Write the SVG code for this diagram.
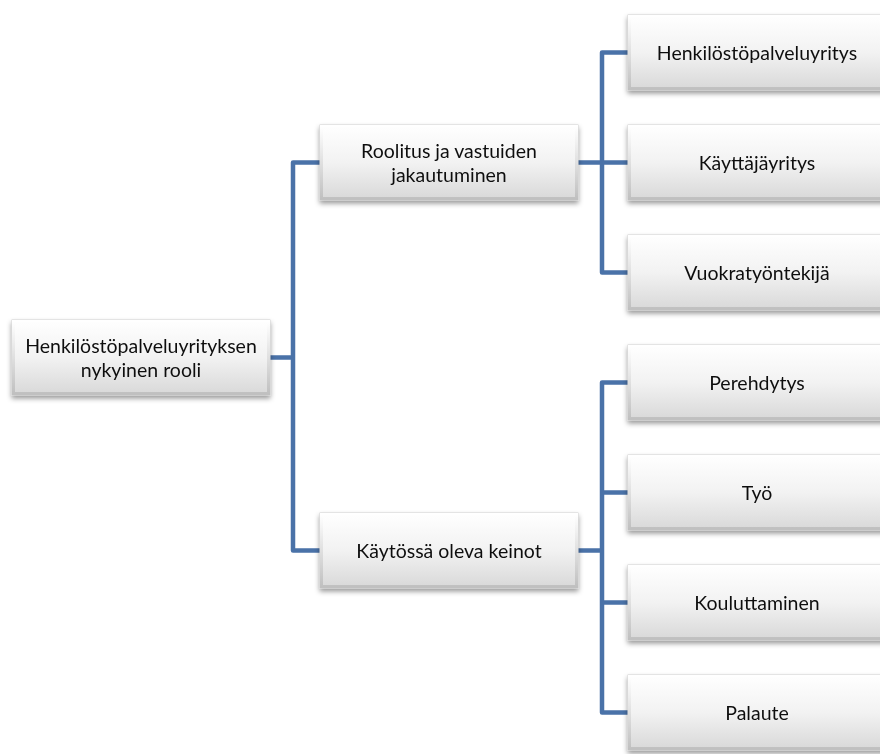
<svg xmlns="http://www.w3.org/2000/svg" width="880" height="754" viewBox="0 0 880 754">
<style>
.box{fill:url(#g);stroke:#d0d0d0;stroke-width:1}
.bev{fill:none;stroke:url(#bv);stroke-width:3}
.t{font-family:Lato,"Open Sans",sans-serif;font-size:19.5px;fill:#111;text-anchor:middle}
.c{fill:none;stroke:#4A72A8;stroke-width:4.5;stroke-linejoin:round;stroke-linecap:butt}
</style>
<defs>
<linearGradient id="g" x1="0" y1="0" x2="0" y2="1">
<stop offset="0" stop-color="#ffffff"/>
<stop offset="0.5" stop-color="#f2f2f2"/>
<stop offset="1" stop-color="#d8d8d8"/>
</linearGradient>
<linearGradient id="bv" x1="0" y1="0" x2="0" y2="1">
<stop offset="0" stop-color="#ffffff"/>
<stop offset="1" stop-color="#c0c0c0"/>
</linearGradient>
<filter id="sh" x="-10%" y="-20%" width="120%" height="150%">
<feDropShadow dx="0" dy="3" stdDeviation="2.5" flood-color="#000" flood-opacity="0.4"/>
</filter>
</defs>
<rect width="880" height="754" fill="#fff"/>
<g id="connectors">
<path class="c" d="M270 357.5H293M320 162.5H293V550.5H320"/>
<path class="c" d="M578 162.5H602M628 52.5H602V272.5H628M602 162.5H628"/>
<path class="c" d="M578 550.5H602M628 382.5H602V712.5H628M602 492.5H628M602 602.5H628"/>
</g>
<g id="root" filter="url(#sh)"><rect class="box" x="12" y="320" width="258" height="75"/><rect class="bev" x="13.5" y="321.5" width="255" height="72"/><text class="t" x="141" y="353">Henkilöstöpalveluyrityksen</text><text class="t" x="141" y="377">nykyinen rooli</text></g>
<g id="mid1" filter="url(#sh)"><rect class="box" x="320" y="125" width="258" height="75"/><rect class="bev" x="321.5" y="126.5" width="255" height="72"/><text class="t" x="449" y="158">Roolitus ja vastuiden</text><text class="t" x="449" y="182">jakautuminen</text></g>
<g id="mid2" filter="url(#sh)"><rect class="box" x="320" y="513" width="258" height="75"/><rect class="bev" x="321.5" y="514.5" width="255" height="72"/><text class="t" x="449" y="558">Käytössä oleva keinot</text></g>
<g id="leaf1" filter="url(#sh)"><rect class="box" x="628" y="15" width="258" height="75"/><rect class="bev" x="629.5" y="16.5" width="255" height="72"/><text class="t" x="757" y="60">Henkilöstöpalveluyritys</text></g>
<g id="leaf2" filter="url(#sh)"><rect class="box" x="628" y="125" width="258" height="75"/><rect class="bev" x="629.5" y="126.5" width="255" height="72"/><text class="t" x="757" y="170">Käyttäjäyritys</text></g>
<g id="leaf3" filter="url(#sh)"><rect class="box" x="628" y="235" width="258" height="75"/><rect class="bev" x="629.5" y="236.5" width="255" height="72"/><text class="t" x="757" y="280">Vuokratyöntekijä</text></g>
<g id="leaf4" filter="url(#sh)"><rect class="box" x="628" y="345" width="258" height="75"/><rect class="bev" x="629.5" y="346.5" width="255" height="72"/><text class="t" x="757" y="390">Perehdytys</text></g>
<g id="leaf5" filter="url(#sh)"><rect class="box" x="628" y="455" width="258" height="75"/><rect class="bev" x="629.5" y="456.5" width="255" height="72"/><text class="t" x="757" y="500">Työ</text></g>
<g id="leaf6" filter="url(#sh)"><rect class="box" x="628" y="565" width="258" height="75"/><rect class="bev" x="629.5" y="566.5" width="255" height="72"/><text class="t" x="757" y="610">Kouluttaminen</text></g>
<g id="leaf7" filter="url(#sh)"><rect class="box" x="628" y="675" width="258" height="75"/><rect class="bev" x="629.5" y="676.5" width="255" height="72"/><text class="t" x="757" y="720">Palaute</text></g>
</svg>
